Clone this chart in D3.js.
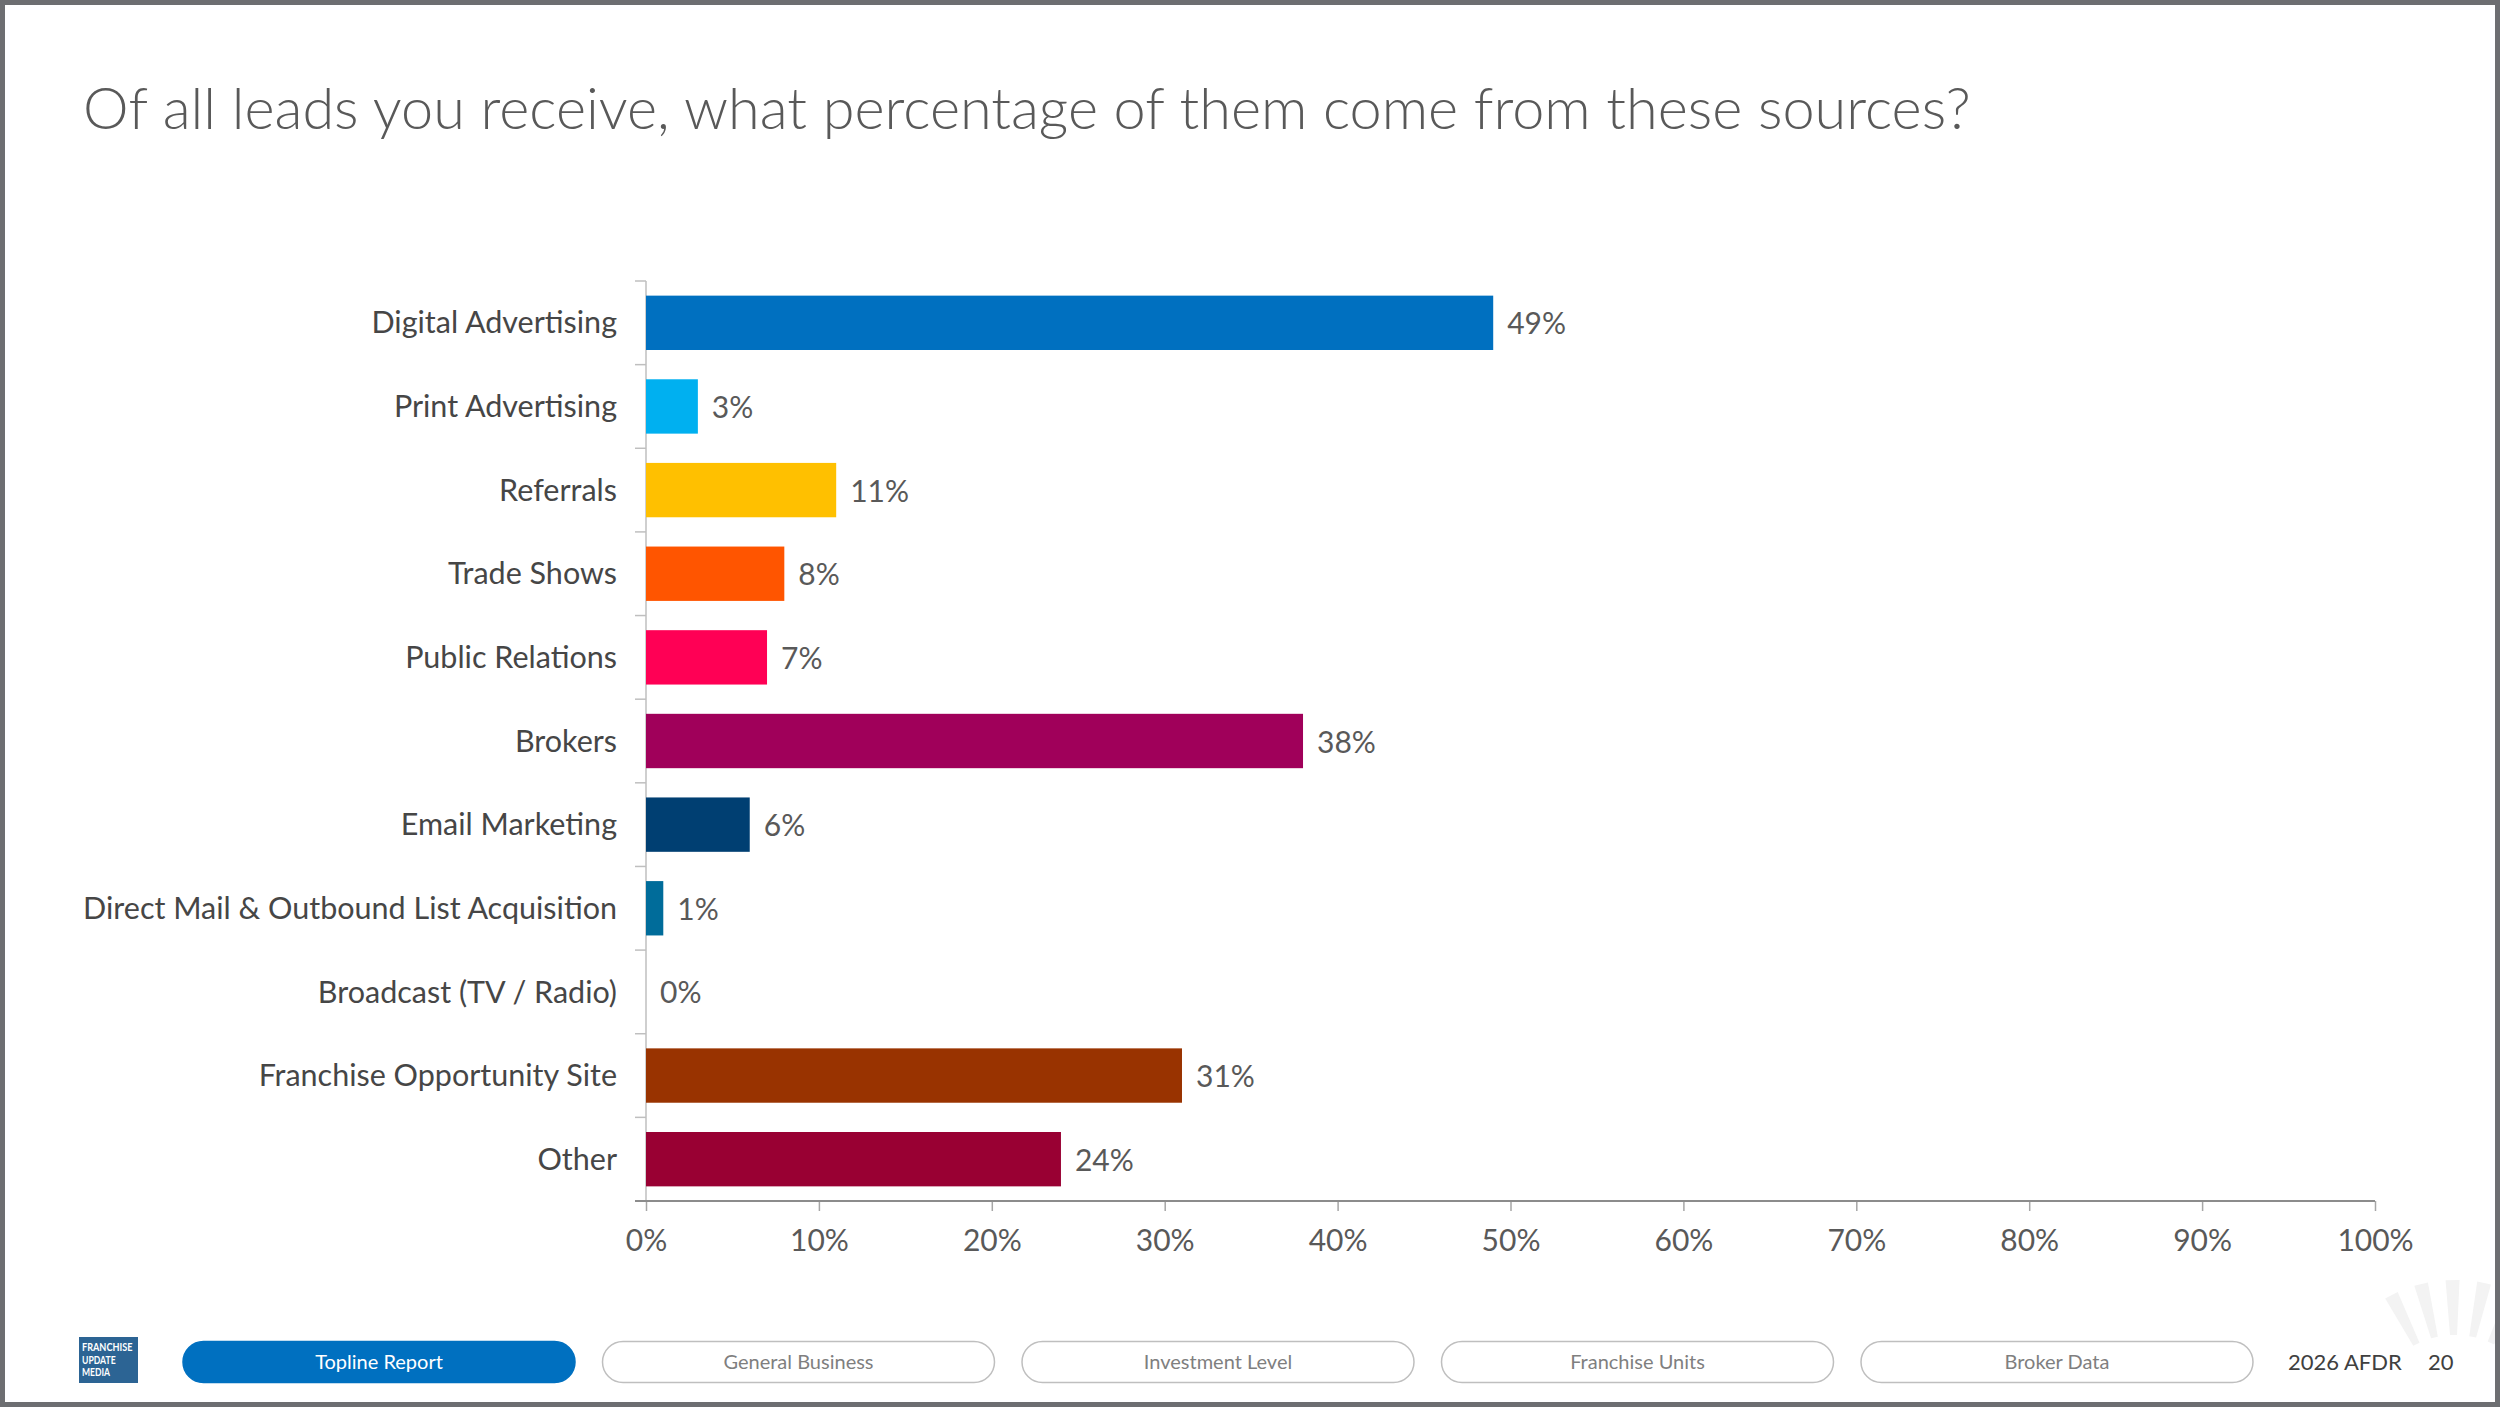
<!DOCTYPE html>
<html>
<head>
<meta charset="utf-8">
<script src="https://cdn.jsdelivr.net/npm/d3@7"></script>
<style>
  html, body { margin: 0; padding: 0; background: #ffffff; }
  svg { display: block; }
  text { font-family: Lato, "Open Sans", "DejaVu Sans", sans-serif; }
</style>
</head>
<body>
<svg id="chart" width="2500" height="1407"></svg>
<script>
// ---------------- data ----------------
const titleText = "Of all leads you receive, what percentage of them come from these sources?";
const categories = [
  "Digital Advertising",
  "Print Advertising",
  "Referrals",
  "Trade Shows",
  "Public Relations",
  "Brokers",
  "Email Marketing",
  "Direct Mail & Outbound List Acquisition",
  "Broadcast (TV / Radio)",
  "Franchise Opportunity Site",
  "Other"
];
const values = [49, 3, 11, 8, 7, 38, 6, 1, 0, 31, 24];
const barColors = [
  "#0070C0", "#00B0F0", "#FFC000", "#FF5500", "#FF0055", "#A0005A",
  "#003F72", "#006C9A", "#7F7F7F", "#993300", "#990033"
];
const xTickValues = [0, 10, 20, 30, 40, 50, 60, 70, 80, 90, 100];
const navItems = ["Topline Report", "General Business", "Investment Level", "Franchise Units", "Broker Data"];
const activeNav = "Topline Report";
const logoLines = ["FRANCHISE", "UPDATE", "MEDIA"];
const footerReport = "2026 AFDR";
const pageNumber = "20";

// ---------------- layout ----------------
const W = 2500, H = 1407;
const svg = d3.select("#chart");

svg.append("rect").attr("x", 0).attr("y", 0).attr("width", W).attr("height", H).attr("fill", "#ffffff");

// decorative faint sunburst, bottom-right corner
const deco = svg.append("g").attr("fill", "#F3F3F3");
const decoCx = 2455, decoCy = 1420;
d3.range(-27, 60, 13).forEach(a => {
  const r0 = 85, r1 = 140, half0 = 3.5, half1 = 7;
  const rad = a * Math.PI / 180;
  const dx = Math.sin(rad), dy = -Math.cos(rad);
  const px = Math.cos(rad), py = Math.sin(rad);
  const pts = [
    [decoCx + dx * r0 - px * half0, decoCy + dy * r0 - py * half0],
    [decoCx + dx * r1 - px * half1, decoCy + dy * r1 - py * half1],
    [decoCx + dx * r1 + px * half1, decoCy + dy * r1 + py * half1],
    [decoCx + dx * r0 + px * half0, decoCy + dy * r0 + py * half0]
  ];
  deco.append("path").attr("d", "M" + pts.map(p => p.join(",")).join("L") + "Z");
});

// title
const title = svg.append("text")
  .attr("x", 83).attr("y", 129)
  .attr("fill", "#595959")
  .attr("font-weight", 300)
  .attr("font-size", 56)
  .text(titleText);
{
  const w = title.node().getComputedTextLength();
  const fs = Math.max(48, Math.min(64, 56 * 1888 / w));
  title.attr("font-size", fs);
}

// scales
const x = d3.scaleLinear().domain([0, 100]).range([646, 2375]);
const y = d3.scaleBand().domain(categories).range([281, 1201])
  .paddingInner(0.35).paddingOuter(0.175);
const step = y.step();

// y axis line + boundary ticks
const gy = svg.append("g");
gy.append("line")
  .attr("x1", x(0)).attr("x2", x(0))
  .attr("y1", y.range()[0]).attr("y2", y.range()[1])
  .attr("stroke", "#BFBFBF").attr("stroke-width", 1.5);
gy.selectAll("line.tick").data(d3.range(categories.length + 1)).join("line")
  .attr("class", "tick")
  .attr("x1", x(0) - 11).attr("x2", x(0))
  .attr("y1", i => y.range()[0] + i * step)
  .attr("y2", i => y.range()[0] + i * step)
  .attr("stroke", "#BFBFBF").attr("stroke-width", 1.5);

// bars
svg.append("g").selectAll("rect").data(categories).join("rect")
  .attr("x", x(0))
  .attr("y", d => y(d))
  .attr("width", (d, i) => x(values[i]) - x(0))
  .attr("height", y.bandwidth())
  .attr("fill", (d, i) => barColors[i]);

// category labels
const catLabels = svg.append("g").selectAll("text").data(categories).join("text")
  .attr("x", 617)
  .attr("y", d => y(d) + y.bandwidth() / 2)
  .attr("dy", "0.35em")
  .attr("text-anchor", "end")
  .attr("fill", "#464646")
  .attr("font-size", 30)
  .text(d => d);
{
  let maxW = 0;
  catLabels.each(function () { maxW = Math.max(maxW, this.getComputedTextLength()); });
  const fs = Math.max(26, Math.min(32, 30 * 534 / maxW));
  catLabels.attr("font-size", fs);
}

// value labels
svg.append("g").selectAll("text").data(categories).join("text")
  .attr("x", (d, i) => x(values[i]) + 14)
  .attr("y", d => y(d) + y.bandwidth() / 2 + 1)
  .attr("dy", "0.35em")
  .attr("fill", "#595959")
  .attr("font-size", 30)
  .text((d, i) => values[i] + "%");

// x axis
const gx = svg.append("g").attr("transform", `translate(0,${y.range()[1]})`)
  .call(d3.axisBottom(x).tickValues(xTickValues).tickSize(10).tickPadding(19)
    .tickFormat(d => d + "%"));
gx.select(".domain").remove();
gx.selectAll(".tick line").attr("stroke", "#A6A6A6").attr("stroke-width", 1.5);
gx.selectAll(".tick text")
  .attr("fill", "#595959").attr("font-size", 30)
  .attr("font-family", "Lato, 'Open Sans', sans-serif");
gx.append("line")
  .attr("x1", x(0) - 11).attr("x2", x(100))
  .attr("y1", 0).attr("y2", 0)
  .attr("stroke", "#8C8C8C").attr("stroke-width", 2);

// ---------------- footer ----------------
// logo
const logo = svg.append("g");
logo.append("rect").attr("x", 79).attr("y", 1337).attr("width", 59).attr("height", 46).attr("fill", "#2C6494");
logo.selectAll("text").data(logoLines).join("text")
  .attr("x", 82)
  .attr("y", (d, i) => 1351 + i * 12.5)
  .attr("fill", "#ffffff")
  .attr("font-size", 12)
  .attr("font-weight", 700)
  .attr("font-family", "'Liberation Sans Narrow', 'Roboto', sans-serif")
  .attr("textLength", (d) => d.length * 5.6)
  .attr("lengthAdjust", "spacingAndGlyphs")
  .text(d => d);

// nav pills
const navX = d3.scalePoint().domain(navItems).range([183, 1861]);
const pillW = 392, pillH = 41, pillY = 1341.5;
const nav = svg.append("g").selectAll("g").data(navItems).join("g")
  .attr("transform", d => `translate(${navX(d)},${pillY})`);
nav.append("rect")
  .attr("width", pillW).attr("height", pillH)
  .attr("rx", pillH / 2).attr("ry", pillH / 2)
  .attr("fill", d => d === activeNav ? "#0070C0" : "#ffffff")
  .attr("stroke", d => d === activeNav ? "#0070C0" : "#BFBFBF")
  .attr("stroke-width", 1.5);
nav.append("text")
  .attr("x", pillW / 2).attr("y", pillH / 2).attr("dy", "0.35em")
  .attr("text-anchor", "middle")
  .attr("font-size", 20)
  .attr("fill", d => d === activeNav ? "#ffffff" : "#7F7F7F")
  .text(d => d);

svg.append("text").attr("x", 2288).attr("y", 1370)
  .attr("fill", "#404040").attr("font-size", 22).text(footerReport);
svg.append("text").attr("x", 2428).attr("y", 1370)
  .attr("fill", "#404040").attr("font-size", 22).text(pageNumber);

// slide frame
svg.append("rect").attr("x", 2.5).attr("y", 2.5).attr("width", W - 5).attr("height", H - 5)
  .attr("fill", "none").attr("stroke", "#6D6E71").attr("stroke-width", 5);
</script>
</body>
</html>
